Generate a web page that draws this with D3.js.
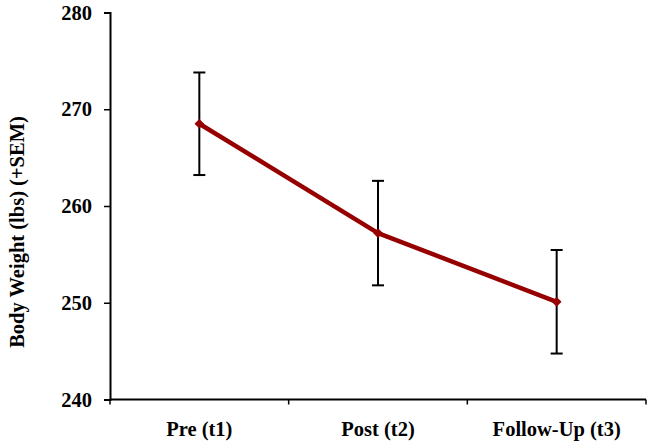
<!DOCTYPE html>
<html>
<head>
<meta charset="utf-8">
<script src="https://cdn.jsdelivr.net/npm/d3@7"></script>
<style>
  body { margin: 0; background: #fff; }
  text { font-family: "Liberation Serif", "Times New Roman", serif; font-weight: bold; }
</style>
</head>
<body>
<div id="chart"></div>
<script>
// data
let categories = ["Pre (t1)", "Post (t2)", "Follow-Up (t3)"];
let weights = [268.5, 257.2, 250.1];
let sem = [5.3, 5.4, 5.35];
let yTicks = [240, 250, 260, 270, 280];

let w = 654, h = 445;
let margin = {left: 110, right: 8, top: 12.5, bottom: 45.5};

let svg = d3.select("#chart")
  .append("svg")
  .attr("width", w)
  .attr("height", h);

let x = d3.scaleBand()
  .domain(categories)
  .range([margin.left, w - margin.right]);

let y = d3.scaleLinear()
  .domain([240, 280])
  .range([h - margin.bottom, margin.top]);

// y axis
let yAxis = svg.append("g")
  .attr("transform", "translate(" + margin.left + ",0)")
  .call(d3.axisLeft(y).tickValues(yTicks).tickSize(6).tickPadding(12));
yAxis.select(".domain").attr("stroke-width", 2);
yAxis.selectAll(".tick line").attr("stroke-width", 1.5);
yAxis.selectAll("text")
  .style("font-size", "20.5px")
  .style("font-family", "Liberation Serif")
  .style("font-weight", "bold")
  .attr("fill", "#000");

// x axis, ticks on the band edges
let xAxis = svg.append("g")
  .attr("transform", "translate(0," + y(240) + ")");
xAxis.append("line")
  .attr("x1", margin.left).attr("x2", w - margin.right)
  .attr("stroke", "#000").attr("stroke-width", 2);
let edges = categories.map(c => x(c)).concat([x(categories[2]) + x.bandwidth()]);
xAxis.selectAll(".xtick").data(edges).enter().append("line")
  .attr("x1", d => d).attr("x2", d => d)
  .attr("y1", 0).attr("y2", 5)
  .attr("stroke", "#000").attr("stroke-width", 1.5);
xAxis.selectAll(".xlabel").data(categories).enter().append("text")
  .attr("x", d => x(d) + x.bandwidth() / 2)
  .attr("y", 36)
  .attr("text-anchor", "middle")
  .style("font-size", "20.5px")
  .text(d => d);

// y title
svg.append("text")
  .attr("transform", "translate(24,232) rotate(-90)")
  .attr("text-anchor", "middle")
  .style("font-size", "20.5px")
  .text("Body Weight (lbs) (+SEM)");

let cx = i => x(categories[i]) + x.bandwidth() / 2;

// error bars
let eb = svg.append("g");
weights.forEach((v, i) => {
  let top = y(v + sem[i]), bot = y(v - sem[i]);
  eb.append("line").attr("x1", cx(i)).attr("x2", cx(i)).attr("y1", top).attr("y2", bot)
    .attr("stroke", "#000").attr("stroke-width", 2);
  [top, bot].forEach(yy => {
    eb.append("line").attr("x1", cx(i) - 6).attr("x2", cx(i) + 6).attr("y1", yy).attr("y2", yy)
      .attr("stroke", "#000").attr("stroke-width", 2);
  });
});

// line
let line = d3.line()
  .x((d, i) => cx(i))
  .y(d => y(d));
svg.append("path")
  .datum(weights)
  .attr("d", line)
  .attr("fill", "none")
  .attr("stroke", "#960000")
  .attr("stroke-width", 4.5)
  .attr("stroke-linejoin", "round");

// diamonds
svg.append("g").selectAll("path").data(weights).enter().append("path")
  .attr("transform", (d, i) => "translate(" + cx(i) + "," + y(d) + ")")
  .attr("d", d3.symbol().type(d3.symbolDiamond2).size(60))
  .attr("fill", "#960000");
</script>
</body>
</html>
